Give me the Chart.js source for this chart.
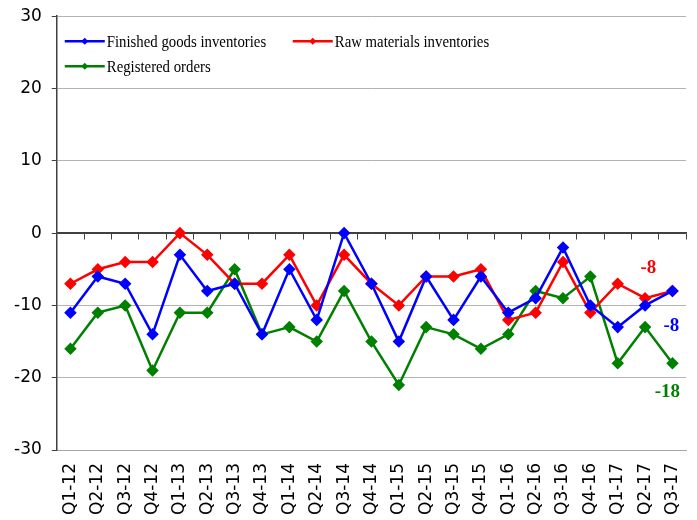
<!DOCTYPE html>
<html><head><meta charset="utf-8">
<script src="https://cdn.jsdelivr.net/npm/chart.js@4.4.0/dist/chart.umd.min.js"></script>
<style>
html,body{margin:0;padding:0;overflow:hidden;background:#fff;width:697px;height:520px}
#wrap{position:relative;top:-4px;width:698px;height:524px}
</style></head>
<body><div id="wrap"><canvas id="c"></canvas></div>
<script>
const categories = ['Q1-12','Q2-12','Q3-12','Q4-12','Q1-13','Q2-13','Q3-13','Q4-13','Q1-14','Q2-14','Q3-14','Q4-14','Q1-15','Q2-15','Q3-15','Q4-15','Q1-16','Q2-16','Q3-16','Q4-16','Q1-17','Q2-17','Q3-17'];
const finishedGoods    = [-11,-6,-7,-14,-3,-8,-7,-14,-5,-12,0,-7,-15,-6,-12,-6,-11,-9,-2,-10,-13,-10,-8];
const rawMaterials     = [-7,-5,-4,-4,0,-3,-7,-7,-3,-10,-3,-7,-10,-6,-6,-5,-12,-11,-4,-11,-7,-9,-8];
const registeredOrders = [-16,-11,-10,-19,-11,-11,-5,-14,-13,-15,-8,-15,-21,-13,-14,-16,-14,-8,-9,-6,-18,-13,-18];
const seriesNames = ['Finished goods inventories','Raw materials inventories','Registered orders'];
const seriesColors = ['#0000ff','#ff0000','#008000'];
const yMin = -30, yMax = 30, yStep = 10;

const seriesData = [finishedGoods, rawMaterials, registeredOrders];

const endLabels = {
  id: 'endLabels',
  afterDatasetsDraw(chart) {
    const ctx = chart.ctx;
    const offs = [[-1, 35], [-24, -23], [-5, 29]];
    chart.data.datasets.forEach((ds, i) => {
      const meta = chart.getDatasetMeta(i);
      const pt = meta.data[meta.data.length - 1];
      ctx.save();
      ctx.font = 'bold 19px "Liberation Serif"';
      ctx.fillStyle = ds.borderColor;
      ctx.textAlign = 'center';
      ctx.textBaseline = 'middle';
      ctx.fillText(String(ds.data[ds.data.length - 1]), pt.x + offs[i][0], pt.y + offs[i][1]);
      ctx.restore();
    });
  }
};

const innerLegend = {
  id: 'innerLegend',
  afterDraw(chart) {
    const ctx = chart.ctx;
    const a = chart.chartArea;
    const pos = [[8, 25], [236, 25], [8, 50]];
    const lineLen = 40;
    chart.data.datasets.forEach((ds, i) => {
      const x = a.left + pos[i][0], y = a.top + pos[i][1];
      ctx.save();
      ctx.strokeStyle = ds.borderColor;
      ctx.lineWidth = 2.5;
      ctx.beginPath(); ctx.moveTo(x, y); ctx.lineTo(x + lineLen, y); ctx.stroke();
      ctx.fillStyle = ds.borderColor;
      const cx = x + lineLen / 2, r = 3.5;
      ctx.beginPath(); ctx.moveTo(cx, y - r); ctx.lineTo(cx + r, y); ctx.lineTo(cx, y + r); ctx.lineTo(cx - r, y); ctx.closePath(); ctx.fill();
      ctx.fillStyle = '#000';
      ctx.font = '17px "Liberation Serif"';
      ctx.textAlign = 'left';
      ctx.textBaseline = 'middle';
      ctx.translate(x + lineLen + 2, y + 1);
      ctx.scale(0.87, 1);
      ctx.fillText(ds.label, 0, 0);
      ctx.restore();
    });
  }
};

new Chart(document.getElementById('c'), {
  type: 'line',
  data: {
    labels: categories,
    datasets: seriesNames.map((n, i) => ({
      label: n,
      data: seriesData[i],
      borderColor: seriesColors[i],
      backgroundColor: seriesColors[i],
      borderWidth: 2.5,
      pointStyle: 'rectRot',
      pointRadius: 4.5,
      pointHoverRadius: 4.5,
      tension: 0,
      fill: false
    }))
  },
  options: {
    responsive: true,
    maintainAspectRatio: false,
    animation: false,
    layout: { padding: { left: 4, right: 0, top: 0, bottom: 0 } },
    plugins: { legend: { display: false }, tooltip: { enabled: false } },
    scales: {
      x: {
        type: 'category',
        offset: true,
        grid: { display: false },
        border: { display: true, color: '#a6a6a6', width: 1 },
        ticks: {
          autoSkip: false, maxRotation: 90, minRotation: 90, padding: 5,
          color: '#000', font: { family: 'DejaVu Sans', size: 17 }
        }
      },
      x2: {
        type: 'category',
        axis: 'x',
        labels: categories,
        offset: true,
        position: { y: 0 },
        grid: { display: true, drawOnChartArea: false, drawTicks: true, tickLength: 6, color: '#404040', offset: true },
        border: { display: true, color: '#404040', width: 1.5 },
        ticks: { display: false }
      },
      y: {
        min: yMin, max: yMax,
        ticks: { stepSize: yStep, padding: 10, color: '#000', font: { family: 'DejaVu Sans', size: 17 } },
        grid: {
          color: (c) => c.tick && c.tick.value === 0 ? '#404040' : '#b3b3b3',
          tickColor: '#404040', tickLength: 5, lineWidth: 1
        },
        border: { display: true, color: '#404040', width: 1.5 }
      }
    }
  },
  plugins: [endLabels, innerLegend]
});
</script></body></html>
